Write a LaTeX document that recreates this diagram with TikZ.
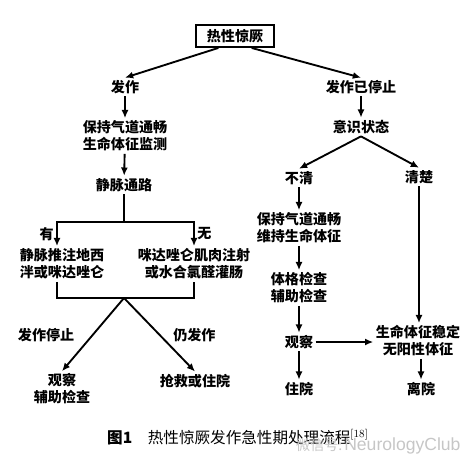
\documentclass[tikz,border=0pt]{standalone}
\usepackage{fontspec}
\usepackage{tikz}
\usetikzlibrary{arrows.meta,positioning,calc}
\newfontfamily\cjk{Noto Sans CJK SC}
\newfontfamily\wmfont{Liberation Sans}

\begin{document}
\begin{tikzpicture}[
  x=0.03cm, y=-0.03cm,
  txt/.style={inner sep=2pt, align=center, font=\cjk\bfseries\fontsize{12}{14.5}\selectfont},
  topbox/.style={txt, rectangle, draw, line width=1.6pt, minimum width=2.34cm,
                 minimum height=0.66cm},
  lbl/.style={inner sep=1pt, font=\cjk\bfseries\fontsize{12}{14.5}\selectfont},
  arr/.style={-{Latex[length=7pt,width=6pt]}, line width=1.6pt},
  lnk/.style={line width=1.6pt},
]
\useasboundingbox (0,0) rectangle (475,468);

\node[topbox] (top) at (235,36) {热性惊厥};

% left branch
\node[txt] (fz) at (125,87) {发作};
\node[txt] (bc1) at (125,136) {保持气道通畅\\生命体征监测};
\node[txt] (jm) at (124,185) {静脉通路};
\node[txt] (t1) at (62,264) {静脉推注地西\\泮或咪达唑仑};
\node[txt] (t2) at (194,264) {咪达唑仑肌肉注射\\或水合氯醛灌肠};
\node[txt] (gc1) at (62,389) {观察\\辅助检查};
\node[txt] (qj) at (195,381) {抢救或住院};

% right branch
\node[txt] (tz) at (361,87) {发作已停止};
\node[txt] (ys) at (361,127) {意识状态};
\node[txt] (bq) at (299,178) {不清};
\node[txt] (qc) at (419,177) {清楚};
\node[txt] (bc2) at (299,228) {保持气道通畅\\维持生命体征};
\node[txt] (tg) at (299,288) {体格检查\\辅助检查};
\node[txt] (gc2) at (299,342) {观察};
\node[txt] (zy) at (299,389) {住院};
\node[txt] (wd) at (418,341) {生命体征稳定\\无阳性体征};
\node[txt] (ly) at (421,389) {离院};

% caption
\node[anchor=west, inner sep=0pt, font=\cjk\fontsize{13.3}{16}\selectfont] (cap) at (107,437)
  {{\bfseries 图1}\quad 热性惊厥发作急性期处理流程\textsuperscript{\rmfamily[18]}};
\node[anchor=west, inner sep=0pt, text=gray!45] (wm) at (296,446)
  {{\cjk\fontsize{12}{14}\selectfont 微信号:}\,{\wmfont\fontsize{15}{17}\selectfont NeurologyClub}};

% top split
\draw[arr] ([xshift=-0.5cm]top.south) -- (fz.north);
\draw[arr] ([xshift=0.5cm]top.south) -- (tz.north);

% left flow
\draw[arr] (fz) -- (bc1);
\draw[arr] (bc1) -- (jm);
\coordinate (br) at (124,222);
\coordinate (jn) at (124,298);
\draw[lnk] (jm) -- (br);
\draw[arr] (br) -| node[pos=0.75, left=1pt, lbl]{有} ([xshift=-0.15cm]t1.north);
\draw[arr] (br) -| node[pos=0.75, right=1pt, lbl]{无} (t2.north);
\draw[lnk] ([xshift=-0.15cm]t1.south) |- (jn) -| (t2.south);
\draw[arr] (jn) -- node[left=0.5cm, lbl]{发作停止} (gc1.north);
\draw[arr] (jn) -- node[right=0.35cm, lbl]{仍发作} (qj.north);

% right flow
\draw[arr] (tz) -- (ys);
\draw[arr] (ys.south) -- (bq.north);
\draw[arr] (ys.south) -- (qc.north);
\draw[arr] (bq) -- (bc2);
\draw[arr] (bc2) -- (tg);
\draw[arr] (tg) -- (gc2);
\draw[arr] (gc2) -- (zy);
\draw[arr] (gc2.east) -- (gc2.east -| wd.west);
\draw[arr] (qc) -- (qc |- wd.north);
\draw[arr] (ly |- wd.south) -- (ly);

\end{tikzpicture}
\end{document}
